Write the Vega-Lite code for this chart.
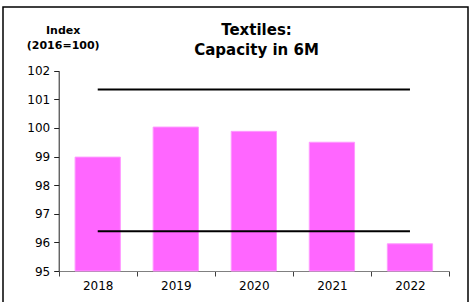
{
  "$schema": "https://vega.github.io/schema/vega-lite/v6.json",
  "width": 465,
  "height": 300,
  "autosize": "none",
  "padding": {"left": 3, "top": 7, "right": 7, "bottom": 0},
  "background": "white",
  "config": {
    "view": {"stroke": "black", "strokeWidth": 1.5},
    "font": "DejaVu Sans"
  },
  "title": {
    "text": ["Textiles:", "Capacity in 6M"],
    "anchor": "middle",
    "frame": "group",
    "font": "DejaVu Sans",
    "fontSize": 15,
    "fontWeight": "bold",
    "color": "black",
    "lineHeight": 20,
    "baseline": "bottom",
    "dx": 21,
    "dy": 70
  },
  "datasets": {
    "bars": [
      {"year": "2018", "index": 98.98},
      {"year": "2019", "index": 100.03},
      {"year": "2020", "index": 99.88},
      {"year": "2021", "index": 99.5},
      {"year": "2022", "index": 95.95}
    ],
    "levels": [
      {"from": "2018", "to": "2022", "level": 101.34},
      {"from": "2018", "to": "2022", "level": 96.39}
    ]
  },
  "layer": [
    {
      "data": {"name": "bars"},
      "mark": {"type": "bar", "fill": "#FF66FF", "stroke": "#FF99FF", "strokeWidth": 1, "width": {"band": 0.58}},
      "encoding": {
        "x": {
          "field": "year",
          "type": "ordinal",
          "scale": {"range": [55.7, 446], "paddingInner": 0, "paddingOuter": 0},
          "axis": {
            "title": null,
            "offset": -36,
            "labelAngle": 0,
            "labelFont": "DejaVu Sans",
            "labelFontSize": 12,
            "labelColor": "black",
            "labelPadding": 4,
            "tickBand": "extent",
            "tickSize": 5,
            "tickColor": "#404040",
            "domainColor": "#808080",
            "domainWidth": 1,
            "grid": false
          }
        },
        "y": {
          "field": "index",
          "type": "quantitative",
          "scale": {"domain": [95, 102], "range": [264, 63.7], "zero": false, "nice": false},
          "axis": {
            "offset": -55.7,
            "values": [95, 96, 97, 98, 99, 100, 101, 102],
            "grid": false,
            "labelFont": "DejaVu Sans",
            "labelFontSize": 12,
            "labelColor": "black",
            "labelPadding": 4,
            "tickSize": 5,
            "tickColor": "#202020",
            "domainColor": "#202020",
            "domainWidth": 1,
            "title": ["Index", "(2016=100)"],
            "titleAngle": 0,
            "titleAlign": "center",
            "titleBaseline": "top",
            "titleX": 4,
            "titleY": 17,
            "titleFont": "DejaVu Sans",
            "titleFontSize": 11,
            "titleFontWeight": "bold",
            "titleColor": "black",
            "titleLineHeight": 15
          }
        },
        "y2": {"datum": 95}
      }
    },
    {
      "data": {"name": "levels"},
      "mark": {"type": "rule", "color": "black", "strokeWidth": 2},
      "encoding": {
        "x": {"field": "from", "type": "ordinal"},
        "x2": {"field": "to"},
        "y": {"field": "level", "type": "quantitative"}
      }
    }
  ]
}
